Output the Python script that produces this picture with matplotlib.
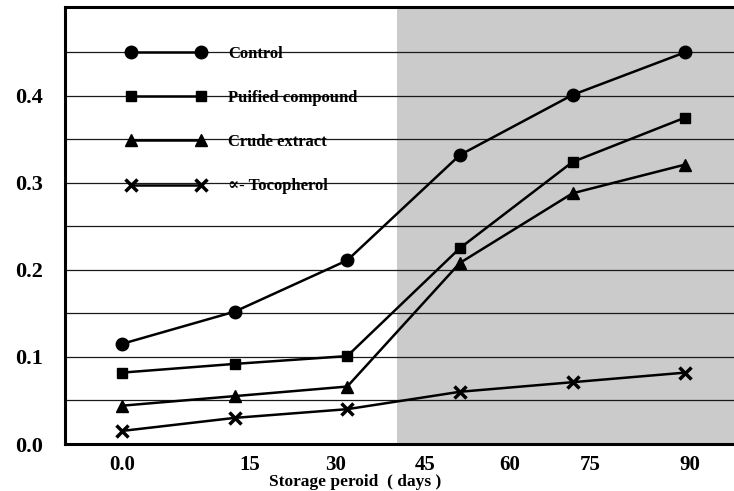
import numpy as np
import matplotlib
matplotlib.use("Agg")
import matplotlib.pyplot as plt
from matplotlib.legend_handler import HandlerLine2D

# storage period (days) for each sampling
days = [0, 18, 36, 54, 72, 90]

control = [0.115, 0.152, 0.211, 0.332, 0.401, 0.450]
purified = [0.082, 0.092, 0.101, 0.225, 0.324, 0.375]
crude = [0.044, 0.055, 0.066, 0.208, 0.288, 0.321]
tocopherol = [0.015, 0.030, 0.040, 0.060, 0.071, 0.082]

series_names = ['Control', 'Puified compound', 'Crude extract', '\u221d- Tocopherol']

# tick labels as printed (they do not sit exactly on the sampling days)
xtick_pos = [0, 20.5, 34.2, 48.4, 62.0, 74.8, 90.8]
xtick_labels = ['0.0', '15', '30', '45', '60', '75', '90']
ytick_vals = [0.0, 0.1, 0.2, 0.3, 0.4]
ytick_labels = ['0.0', '0.1', '0.2', '0.3', '0.4']

plt.rcParams['font.family'] = ['Liberation Serif', 'DejaVu Serif']
plt.rcParams['font.weight'] = 'bold'

fig = plt.figure(figsize=(7.34, 4.91), dpi=100)
ax = fig.add_axes([65/734, 1 - 444/491, 1 - 65/734, (444 - 7)/491])

# scanned halftone shading on the right part of the plate
ax.axvspan(44, 100, color='#cbcbcb', zorder=0, lw=0)

# horizontal rules every 0.05
for yv in np.arange(0.05, 0.5, 0.05):
    ax.axhline(yv, color='#1a1a1a', lw=0.9, zorder=1)

ax.plot(days, control, color='black', lw=1.8, marker='o', ms=9, label=series_names[0], zorder=3)
ax.plot(days, purified, color='black', lw=1.8, marker='s', ms=7, label=series_names[1], zorder=3)
ax.plot(days, crude, color='black', lw=1.8, marker='^', ms=8, label=series_names[2], zorder=3)
ax.plot(days, tocopherol, color='black', lw=1.8, marker='x', ms=8, mew=2.5, label=series_names[3], zorder=3)

ax.set_xlim(-9.1, 97.8)
ax.set_ylim(0, 0.502)

ax.set_xticks(xtick_pos)
ax.set_xticklabels(xtick_labels, fontsize=15, fontweight='bold')
ax.set_yticks(ytick_vals)
ax.set_yticklabels(ytick_labels, fontsize=16, fontweight='bold')
ax.tick_params(axis='both', length=0)
ax.tick_params(axis='x', pad=8)
ax.tick_params(axis='y', pad=16)

ax.set_xlabel('Storage peroid  ( days )', fontsize=12.5, fontweight='bold', va='baseline')
ax.xaxis.set_label_coords(0.433, -0.096)

for side in ['left', 'bottom', 'top']:
    ax.spines[side].set_linewidth(2.2)
ax.spines['right'].set_visible(False)

leg = ax.legend(loc='upper left', bbox_to_anchor=(0.067, 0.911), frameon=False,
                handlelength=6.8, handletextpad=0.3, labelspacing=1.69,
                borderpad=0, borderaxespad=0, prop={'size': 12, 'weight': 'bold'},
                handler_map={plt.Line2D: HandlerLine2D(numpoints=2, marker_pad=1.3)})

fig.savefig('out.png', dpi=100)
